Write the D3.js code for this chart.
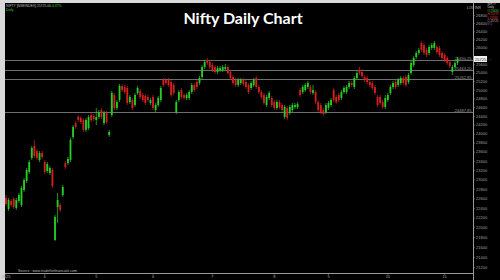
<!DOCTYPE html>
<html><head><meta charset="utf-8">
<script src="https://cdn.jsdelivr.net/npm/d3@7"></script>
<style>html,body{margin:0;padding:0;background:#d9d9d9;}svg{display:block;}</style>
</head><body><svg id="c" width="500" height="280"></svg>
<script>
const opens = [22606,22376,22543,22585,22397,22543,22459,22775,22966,23159,23463,23726,23616,23419,23572,23375,23181,23138,23202,21740,
22417,22459,22669,23354,23354,23419,23926,24238,24374,24351,24306,24081,24126,24419,24396,24306,24374,24533,24238,24465,
23970,24419,24878,24579,24762,25088,25064,25041,24716,24762,24648,24925,24971,24878,24855,24832,24694,24832,24533,24648,
24762,25227,25227,25227,25181,25111,24487,24762,24994,24878,24809,24809,24948,25111,25181,25157,25298,25534,25701,25653,
25582,25534,25416,25463,25463,25487,25534,25416,25298,25227,25111,25157,25227,25181,25111,25041,25111,25274,25064,24948,
24878,24648,24809,24809,24716,24579,24716,24648,24374,24579,24465,24533,24602,24602,24994,24948,24994,25064,25064,24925,
24948,24716,24648,24533,24487,24579,24648,24994,24832,24878,24809,24948,24948,25064,25157,25064,25274,25463,25416,25298,
25274,25181,25157,25064,24832,24832,24716,24602,24762,24925,25064,25181,25111,25157,25274,25298,25181,25392,25582,25773,
25869,26111,26062,25941,25869,25990,25990,26014,25990,25869,25821,25749,25653,25416,25534,25630];
const highs = [22669,22606,22585,22627,22606,22711,22860,23030,23245,23419,23726,23859,23660,23616,23616,23419,23375,23288,23245,22251,
22711,22501,22881,23397,23484,23903,24193,24283,24419,24396,24351,24351,24419,24465,24442,24579,24533,24579,24510,24510,
24081,24971,24925,24762,25134,25134,25111,25088,24878,24809,24925,25088,25017,24925,24901,24878,24809,24878,24694,24855,
25088,25274,25274,25274,25227,25157,24762,24994,25041,24925,24925,24994,25157,25157,25227,25321,25582,25701,25749,25701,
25630,25582,25558,25558,25582,25606,25582,25463,25345,25274,25274,25274,25274,25227,25157,25204,25274,25321,25111,24994,
24925,24878,24971,24855,24762,24762,24762,24694,24648,24625,24648,24694,24694,24716,25041,25111,25157,25204,25111,25111,
24994,24762,24694,24579,24694,24739,24809,25041,24878,24925,24994,25088,25111,25204,25204,25321,25439,25534,25487,25345,
25321,25227,25204,25111,24878,24878,24762,24878,24925,25111,25204,25227,25274,25321,25321,25345,25392,25677,25797,25917,
25990,26160,26111,25990,26062,26111,26160,26062,26038,25917,25869,25797,25701,25582,25677,25773];
const lows = [22438,22334,22417,22376,22355,22501,22417,22733,22924,23116,23419,23463,23419,23375,23441,23116,23138,23095,22817,21720,
22086,22313,22627,23224,23310,23375,23881,24103,24261,24216,24037,24037,24081,24261,24283,24193,24329,24329,24193,24216,
23926,24374,24533,24533,24716,24948,24901,24648,24671,24533,24602,24878,24785,24716,24648,24716,24648,24533,24487,24602,
24716,25064,25111,25064,24832,24878,24442,24716,24785,24762,24762,24762,24901,24948,25017,25111,25251,25487,25582,25487,
25416,25369,25369,25416,25416,25439,25345,25227,25111,25064,25064,25111,25088,25017,24901,24994,25064,25017,24901,24785,
24648,24602,24762,24602,24533,24533,24556,24487,24329,24306,24419,24487,24556,24556,24832,24901,24948,25017,24901,24878,
24671,24487,24442,24396,24442,24533,24602,24716,24671,24716,24762,24901,24901,25017,25064,25017,25227,25345,25274,25181,
25134,25064,24994,24878,24602,24648,24556,24556,24716,24878,25017,25017,25064,25111,25111,25064,25134,25345,25534,25725,
25821,25893,25821,25773,25821,25941,25941,25845,25773,25701,25653,25582,25511,25345,25487,25582];
const closes = [22480,22564,22459,22417,22564,22669,22817,22987,23202,23375,23682,23506,23463,23572,23484,23159,23332,23245,22860,22210,
22564,22355,22839,23267,23441,23859,24148,24148,24306,24261,24081,24306,24374,24306,24329,24374,24487,24374,24465,24261,
24037,24925,24579,24716,25088,24994,24948,24694,24832,24579,24878,25041,24832,24762,24694,24762,24762,24579,24648,24809,
25041,25111,25157,25111,24878,24925,24716,24948,24832,24809,24878,24948,25111,24994,25064,25274,25534,25653,25630,25534,
25463,25416,25511,25511,25534,25534,25392,25274,25157,25111,25227,25227,25134,25064,24948,25157,25227,25064,24948,24832,
24694,24832,24925,24648,24579,24716,24602,24533,24602,24351,24602,24648,24648,24671,24878,25064,25111,25157,24948,24994,
24716,24533,24487,24442,24648,24694,24762,24762,24716,24762,24948,25041,25064,25157,25111,25274,25392,25392,25321,25227,
25181,25111,25041,24925,24648,24694,24602,24809,24878,25064,25157,25064,25227,25274,25157,25111,25345,25630,25749,25869,
25941,25941,25869,25821,26014,26062,26111,25893,25821,25749,25701,25630,25558,25534,25630,25725];
const priceTicks = d3.range(21200, 26801, 200);
const levelValues = [25690.25, 25463.20, 25262.85, 24487.85];
const dateTickIndex = [0, 15, 35, 57, 80, 104, 125, 148, 170];
const dateTickLabels = ["2025", "4", "5", "6", "7", "8", "9", "10", "11"];
const titleText = "Nifty Daily Chart";

const n = closes.length;
const candles = d3.range(n).map(i => ({i, o: opens[i], h: highs[i], l: lows[i], c: closes[i]}));

const svg = d3.select("#c");
svg.append("rect").attr("x", 5).attr("y", 3).attr("width", 495).attr("height", 277).attr("fill", "#000");

const x = d3.scaleBand().domain(d3.range(n)).range([4.7, 458.8]).paddingInner(0.3).paddingOuter(0.15);
const y = d3.scaleLog().domain([21200, 26800]).range([267, 15]);
const green = "#25d025", red = "#d42020";
const hf = "Liberation Sans, Arial, sans-serif";

// level lines
const lv = svg.append("g");
lv.selectAll("line").data(levelValues).join("line")
  .attr("x1", 5).attr("x2", 473)
  .attr("y1", d => Math.round(y(d)) + 0.5).attr("y2", d => Math.round(y(d)) + 0.5)
  .attr("stroke", "#6e6e6e").attr("stroke-width", 1);
lv.selectAll("text").data(levelValues).join("text")
  .attr("x", 471.5).attr("y", d => Math.round(y(d)) - 0.5)
  .attr("text-anchor", "end").attr("font-family", hf)
  .attr("font-size", 4).attr("fill", "#9a9a9a").text(d => d.toFixed(2));

// candles
const cg = svg.append("g");
const bw = x.bandwidth();
cg.selectAll("line").data(candles).join("line")
  .attr("x1", d => x(d.i) + bw / 2).attr("x2", d => x(d.i) + bw / 2)
  .attr("y1", d => y(d.h)).attr("y2", d => y(d.l))
  .attr("stroke", d => d.c >= d.o ? green : red).attr("stroke-width", 0.7);
cg.selectAll("rect").data(candles).join("rect")
  .attr("x", d => x(d.i)).attr("width", bw)
  .attr("y", d => y(Math.max(d.o, d.c)))
  .attr("height", d => Math.max(1, Math.abs(y(d.o) - y(d.c))))
  .attr("fill", d => d.c >= d.o ? green : red);

// right axis
const last = closes[n - 1];
const ya = svg.append("g").attr("transform", "translate(473,0)")
  .call(d3.axisRight(y).tickValues(priceTicks.filter(v => Math.abs(y(v) - y(last)) > 4.5))
    .tickFormat(d3.format("d")).tickSize(1.5).tickPadding(1.5));
ya.select(".domain").remove();
ya.selectAll("line").attr("stroke", "#888");
ya.selectAll("text").attr("font-size", 4).attr("fill", "#a0a0a0").attr("font-family", hf);
svg.append("line").attr("x1", 473.5).attr("x2", 473.5).attr("y1", 3).attr("y2", 280).attr("stroke", "#9a9a9a").attr("stroke-width", 1);

// current price box
svg.append("rect").attr("x", 474).attr("y", y(last) - 3).attr("width", 13).attr("height", 6).attr("fill", "#f2f2f2");
svg.append("text").attr("x", 475).attr("y", y(last) + 1.5).attr("font-size", 4).attr("fill", "#222")
  .attr("font-family", hf).text(last.toFixed(2));

// bottom axis
const xa = svg.append("g").attr("transform", "translate(0,273)")
  .call(d3.axisBottom(x).tickValues(dateTickIndex).tickFormat((d, k) => dateTickLabels[k]).tickSize(1.5).tickPadding(1));
xa.select(".domain").remove();
xa.selectAll("line").attr("stroke", "#888");
xa.selectAll("text").attr("font-size", 4).attr("fill", "#a0a0a0").attr("font-family", hf);
svg.append("line").attr("x1", 5).attr("x2", 474).attr("y1", 273.5).attr("y2", 273.5).attr("stroke", "#9a9a9a");

// title
svg.append("text").attr("x", 243).attr("y", 24).attr("text-anchor", "middle")
  .attr("font-family", "Lato, 'Open Sans', sans-serif").attr("font-weight", "bold").attr("font-size", 16)
  .attr("fill", "#fff").text(titleText);

// header texts
const hdr = svg.append("text").attr("x", 6).attr("y", 7).attr("font-size", 3.4).attr("font-family", hf).attr("fill", "#bbb");
hdr.append("tspan").text("NIFTY [NSEINDEX] 25725.00 ");
hdr.append("tspan").attr("fill", "#3c3").text("0.37%");
svg.append("text").attr("x", 6).attr("y", 10.5).attr("font-size", 3.4).attr("font-family", hf).attr("fill", "#3c3").text("Daily");
svg.append("text").attr("x", 467).attr("y", 9).attr("font-size", 3.4).attr("font-family", hf).attr("fill", "#bbb").text("LOG");
svg.append("text").attr("x", 475).attr("y", 9).attr("font-size", 3.4).attr("font-family", hf).attr("fill", "#bbb").text("INR");
const legend = [["NIFTY", "#ccc"], ["Daily", "#ccc"], ["O " + opens[n-1], "#3c3"], ["H " + highs[n-1], "#e03030"],
  ["L " + lows[n-1], "#e03030"], ["C " + closes[n-1], "#bbb"], ["V 0", "#c04fd0"]];
svg.append("g").selectAll("text").data(legend).join("text")
  .attr("x", 487.5).attr("y", (d, k) => 5 + k * 3.4).attr("font-size", 2.9).attr("font-family", hf)
  .attr("fill", d => d[1]).text(d => d[0]);

svg.append("text").attr("x", 18).attr("y", 271.5).attr("font-size", 3.6).attr("font-family", hf).attr("fill", "#bbb")
  .text("Source : www.tradethefinancials.com");
</script></body></html>
